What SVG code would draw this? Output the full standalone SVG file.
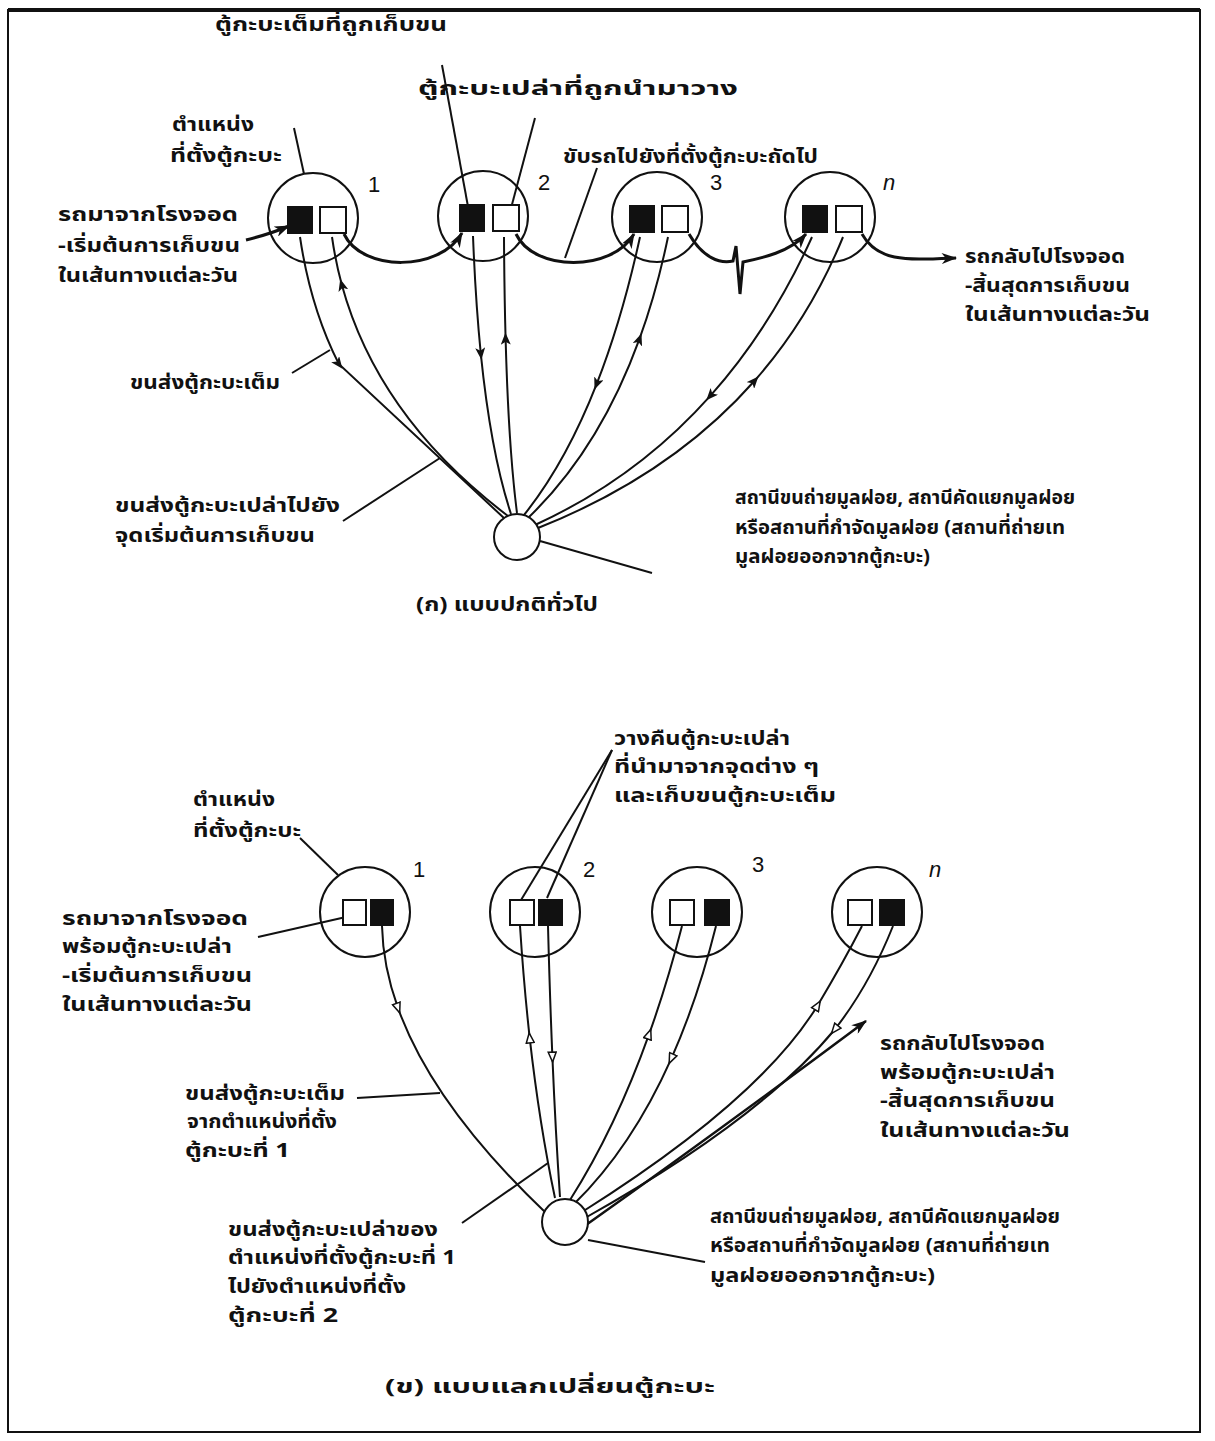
<svg xmlns="http://www.w3.org/2000/svg" width="1215" height="1441" viewBox="0 0 1215 1441">
<style>
.ln{fill:none;stroke:#111;stroke-width:2}
.rt{fill:none;stroke:#111;stroke-width:3}
.cir{fill:#fff;stroke:#111;stroke-width:2}
.ring{fill:none;stroke:#111;stroke-width:2}
.bk{fill:#111;stroke:#111;stroke-width:2}
.wh{fill:#fff;stroke:#111;stroke-width:2}
.th{font-family:"Noto Sans Thai","Noto Sans","DejaVu Sans",sans-serif;font-size:20px;font-weight:bold;fill:#111}
.num{font-family:"Liberation Sans",sans-serif;font-size:22px;fill:#111}
</style>
<defs>
<marker id="ae" viewBox="0 0 14 10" refX="13" refY="5" markerWidth="16" markerHeight="11" markerUnits="userSpaceOnUse" orient="auto"><path d="M0,0 L14,5 L0,10 L4,5 z" fill="#111"/></marker>
<marker id="am" viewBox="0 0 12 10" refX="6" refY="5" markerWidth="12" markerHeight="10" markerUnits="userSpaceOnUse" orient="auto"><path d="M0,0 L12,5 L0,10 L3,5 z" fill="#111"/></marker>
<marker id="ah" viewBox="0 0 12 10" refX="6" refY="5" markerWidth="12" markerHeight="10" markerUnits="userSpaceOnUse" orient="auto"><path d="M1,1 L11,5 L1,9 z" fill="#fff" stroke="#111" stroke-width="1.5"/></marker>
</defs>
<rect x="0" y="0" width="1215" height="1441" fill="#fff"/>
<g id="frame">
<rect x="8" y="10" width="1192" height="1422" fill="none" stroke="#111" stroke-width="2"/>
<line x1="8" y1="10" x2="1200" y2="10" stroke="#111" stroke-width="4"/>
</g>
<g id="connectors">
<path class="rt" d="M246,240 C262,236 275,232 289,226" marker-end="url(#ae)"/>
<path class="rt" d="M344,234 C362,272 440,272 462,233" marker-end="url(#ae)"/>
<path class="rt" d="M516,234 C534,272 612,272 634,234" marker-end="url(#ae)"/>
<path class="rt" d="M689,234 C703,258 720,264 733,261 L736,246 L740,294 L743,262 C762,258 790,252 806,234" marker-end="url(#ae)"/>
<path class="rt" d="M862,234 C878,262 905,260 956,258" marker-end="url(#ae)"/>
<path class="ln" d="M300,237 Q310.5,308 338.8,363.9 Q391.3,412.4 505,519" marker-mid="url(#am)"/>
<path class="ln" d="M508,516 Q378,417.4 341.8,284.8 Q335.5,261.5 332,237" marker-mid="url(#am)"/>
<path class="ln" d="M473,236 Q475.5,300.4 480.8,353.8 Q490.9,452.9 511,514" marker-mid="url(#am)"/>
<path class="ln" d="M517,513 Q508.6,447.9 505.6,338.7 Q504.3,291.9 504,237" marker-mid="url(#am)"/>
<path class="ln" d="M640,237 Q622,319.4 596.7,383.9 Q565.8,462.8 524,515" marker-mid="url(#am)"/>
<path class="ln" d="M528,518 Q599.4,449.4 639.4,339.1 Q656.6,291.9 668,237" marker-mid="url(#am)"/>
<path class="ln" d="M812,237 Q770.6,328.4 710.3,395.8 Q636.8,478.3 535,525" marker-mid="url(#am)"/>
<path class="ln" d="M538,528 Q671.2,475.2 754.4,381 Q809.8,318.2 843,237" marker-mid="url(#am)"/>
<line class="ln" x1="442" y1="65" x2="469" y2="212"/>
<line class="ln" x1="535" y1="118" x2="510" y2="212"/>
<line class="ln" x1="294" y1="128" x2="304" y2="174"/>
<line class="ln" x1="597" y1="168" x2="565" y2="258"/>
<line class="ln" x1="292" y1="373" x2="330" y2="350"/>
<line class="ln" x1="343" y1="521" x2="440" y2="458"/>
<line class="ln" x1="540" y1="541" x2="652" y2="573"/>
<path class="ln" d="M382,926 Q382.9,966.2 398,1008.1 Q433.3,1105.9 546,1213" marker-mid="url(#ah)"/>
<path class="ln" d="M555,1198 Q539.5,1124.8 529.7,1037.9 Q523.8,984.5 520,926" marker-mid="url(#ah)"/>
<path class="ln" d="M548,926 Q549.8,995.3 552.4,1057.1 Q555.6,1132.7 560,1197" marker-mid="url(#ah)"/>
<path class="ln" d="M570,1200 Q615.5,1128.5 649.1,1034.2 Q667.3,983.4 682,926" marker-mid="url(#ah)"/>
<path class="ln" d="M716,926 Q697.6,999.6 671.2,1058.8 Q631.6,1147.6 574,1204" marker-mid="url(#ah)"/>
<path class="ln" d="M582,1212 Q760,1100 817.6,1005.4 Q843,963 862,926" marker-mid="url(#ah)"/>
<path class="ln" d="M893,926 Q869,986 834.7,1029.5 Q760,1120 585,1218" marker-mid="url(#ah)"/>
<path class="rt" style="stroke-width:2.5" d="M586,1225 Q720,1130 866,1021" marker-end="url(#ae)"/>
<line class="ln" x1="300" y1="838" x2="338" y2="875"/>
<line class="ln" x1="258" y1="937" x2="346" y2="917"/>
<line class="ln" x1="612" y1="750" x2="518" y2="905"/>
<line class="ln" x1="612" y1="750" x2="547" y2="898"/>
<line class="ln" x1="357" y1="1098" x2="440" y2="1093"/>
<line class="ln" x1="462" y1="1223" x2="548" y2="1163"/>
<line class="ln" x1="588" y1="1240" x2="705" y2="1262"/>
</g>
<g id="a-site1"><circle class="ring" cx="313" cy="218" r="45"/><rect class="bk" x="288" y="207" width="24" height="26"/><rect class="wh" x="320" y="207" width="26" height="26"/><text class="num" x="368" y="192">1</text></g>
<g id="a-site2"><circle class="ring" cx="483" cy="216" r="45"/><rect class="bk" x="460" y="205" width="24" height="26"/><rect class="wh" x="493" y="205" width="26" height="26"/><text class="num" x="538" y="190">2</text></g>
<g id="a-site3"><circle class="ring" cx="657" cy="217" r="45"/><rect class="bk" x="630" y="206" width="24" height="26"/><rect class="wh" x="662" y="206" width="26" height="26"/><text class="num" x="710" y="190">3</text></g>
<g id="a-siten"><circle class="ring" cx="830" cy="217" r="45"/><rect class="bk" x="803" y="206" width="24" height="26"/><rect class="wh" x="836" y="206" width="26" height="26"/><text class="num" x="883" y="190" font-style="italic">n</text></g>
<g id="a-facility"><circle class="cir" cx="517" cy="537" r="23"/></g>
<g id="b-site1"><circle class="ring" cx="365" cy="912" r="45"/><rect class="wh" x="343" y="900" width="23" height="25"/><rect class="bk" x="371" y="900" width="22" height="25"/><text class="num" x="413" y="877">1</text></g>
<g id="b-site2"><circle class="ring" cx="535" cy="912" r="45"/><rect class="wh" x="510" y="900" width="24" height="25"/><rect class="bk" x="539" y="900" width="23" height="25"/><text class="num" x="583" y="877">2</text></g>
<g id="b-site3"><circle class="ring" cx="697" cy="912" r="45"/><rect class="wh" x="670" y="900" width="24" height="25"/><rect class="bk" x="705" y="900" width="24" height="25"/><text class="num" x="752" y="872">3</text></g>
<g id="b-siten"><circle class="ring" cx="877" cy="912" r="45"/><rect class="wh" x="848" y="900" width="24" height="25"/><rect class="bk" x="880" y="900" width="24" height="25"/><text class="num" x="929" y="877" font-style="italic">n</text></g>
<g id="b-facility"><circle class="cir" cx="565" cy="1222" r="23"/></g>
<g id="a-labels">
<text class="th" x="215" y="31" textLength="232" lengthAdjust="spacingAndGlyphs">ตู้กะบะเต็มที่ถูกเก็บขน</text>
<text class="th" x="418" y="95" textLength="320" lengthAdjust="spacingAndGlyphs">ตู้กะบะเปล่าที่ถูกนำมาวาง</text>
<text class="th" x="172" y="131" textLength="82" lengthAdjust="spacingAndGlyphs">ตำแหน่ง</text>
<text class="th" x="170" y="162" textLength="112" lengthAdjust="spacingAndGlyphs">ที่ตั้งตู้กะบะ</text>
<text class="th" x="563" y="163" textLength="255" lengthAdjust="spacingAndGlyphs">ขับรถไปยังที่ตั้งตู้กะบะถัดไป</text>
<text class="th" x="58" y="221" textLength="180" lengthAdjust="spacingAndGlyphs">รถมาจากโรงจอด</text>
<text class="th" x="58" y="252" textLength="182" lengthAdjust="spacingAndGlyphs">-เริ่มต้นการเก็บขน</text>
<text class="th" x="58" y="282" textLength="180" lengthAdjust="spacingAndGlyphs">ในเส้นทางแต่ละวัน</text>
<text class="th" x="965" y="263" textLength="160" lengthAdjust="spacingAndGlyphs">รถกลับไปโรงจอด</text>
<text class="th" x="965" y="292" textLength="165" lengthAdjust="spacingAndGlyphs">-สิ้นสุดการเก็บขน</text>
<text class="th" x="965" y="321" textLength="185" lengthAdjust="spacingAndGlyphs">ในเส้นทางแต่ละวัน</text>
<text class="th" x="130" y="389" textLength="150" lengthAdjust="spacingAndGlyphs">ขนส่งตู้กะบะเต็ม</text>
<text class="th" x="115" y="512" textLength="225" lengthAdjust="spacingAndGlyphs">ขนส่งตู้กะบะเปล่าไปยัง</text>
<text class="th" x="115" y="542" textLength="200" lengthAdjust="spacingAndGlyphs">จุดเริ่มต้นการเก็บขน</text>
<text class="th" x="735" y="504" textLength="340" lengthAdjust="spacingAndGlyphs">สถานีขนถ่ายมูลฝอย, สถานีคัดแยกมูลฝอย</text>
<text class="th" x="735" y="534" textLength="330" lengthAdjust="spacingAndGlyphs">หรือสถานที่กำจัดมูลฝอย (สถานที่ถ่ายเท</text>
<text class="th" x="735" y="563" textLength="195" lengthAdjust="spacingAndGlyphs">มูลฝอยออกจากตู้กะบะ)</text>
<text class="th" x="416" y="611" textLength="182" lengthAdjust="spacingAndGlyphs">(ก) แบบปกติทั่วไป</text>
</g>
<g id="b-labels">
<text class="th" x="614" y="745" textLength="176" lengthAdjust="spacingAndGlyphs">วางคืนตู้กะบะเปล่า</text>
<text class="th" x="614" y="773" textLength="205" lengthAdjust="spacingAndGlyphs">ที่นำมาจากจุดต่าง ๆ</text>
<text class="th" x="614" y="802" textLength="222" lengthAdjust="spacingAndGlyphs">และเก็บขนตู้กะบะเต็ม</text>
<text class="th" x="193" y="806" textLength="82" lengthAdjust="spacingAndGlyphs">ตำแหน่ง</text>
<text class="th" x="193" y="837" textLength="108" lengthAdjust="spacingAndGlyphs">ที่ตั้งตู้กะบะ</text>
<text class="th" x="62" y="925" textLength="186" lengthAdjust="spacingAndGlyphs">รถมาจากโรงจอด</text>
<text class="th" x="62" y="953" textLength="170" lengthAdjust="spacingAndGlyphs">พร้อมตู้กะบะเปล่า</text>
<text class="th" x="62" y="982" textLength="190" lengthAdjust="spacingAndGlyphs">-เริ่มต้นการเก็บขน</text>
<text class="th" x="62" y="1011" textLength="190" lengthAdjust="spacingAndGlyphs">ในเส้นทางแต่ละวัน</text>
<text class="th" x="880" y="1050" textLength="165" lengthAdjust="spacingAndGlyphs">รถกลับไปโรงจอด</text>
<text class="th" x="880" y="1079" textLength="175" lengthAdjust="spacingAndGlyphs">พร้อมตู้กะบะเปล่า</text>
<text class="th" x="880" y="1107" textLength="175" lengthAdjust="spacingAndGlyphs">-สิ้นสุดการเก็บขน</text>
<text class="th" x="880" y="1137" textLength="190" lengthAdjust="spacingAndGlyphs">ในเส้นทางแต่ละวัน</text>
<text class="th" x="185" y="1100" textLength="160" lengthAdjust="spacingAndGlyphs">ขนส่งตู้กะบะเต็ม</text>
<text class="th" x="187" y="1128" textLength="150" lengthAdjust="spacingAndGlyphs">จากตำแหน่งที่ตั้ง</text>
<text class="th" x="185" y="1157" textLength="105" lengthAdjust="spacingAndGlyphs">ตู้กะบะที่ 1</text>
<text class="th" x="228" y="1236" textLength="210" lengthAdjust="spacingAndGlyphs">ขนส่งตู้กะบะเปล่าของ</text>
<text class="th" x="228" y="1264" textLength="228" lengthAdjust="spacingAndGlyphs">ตำแหน่งที่ตั้งตู้กะบะที่ 1</text>
<text class="th" x="228" y="1293" textLength="178" lengthAdjust="spacingAndGlyphs">ไปยังตำแหน่งที่ตั้ง</text>
<text class="th" x="228" y="1322" textLength="110" lengthAdjust="spacingAndGlyphs">ตู้กะบะที่ 2</text>
<text class="th" x="710" y="1223" textLength="350" lengthAdjust="spacingAndGlyphs">สถานีขนถ่ายมูลฝอย, สถานีคัดแยกมูลฝอย</text>
<text class="th" x="710" y="1252" textLength="340" lengthAdjust="spacingAndGlyphs">หรือสถานที่กำจัดมูลฝอย (สถานที่ถ่ายเท</text>
<text class="th" x="710" y="1282" textLength="225" lengthAdjust="spacingAndGlyphs">มูลฝอยออกจากตู้กะบะ)</text>
<text class="th" x="385" y="1393" textLength="330" lengthAdjust="spacingAndGlyphs">(ข) แบบแลกเปลี่ยนตู้กะบะ</text>
</g>
</svg>
